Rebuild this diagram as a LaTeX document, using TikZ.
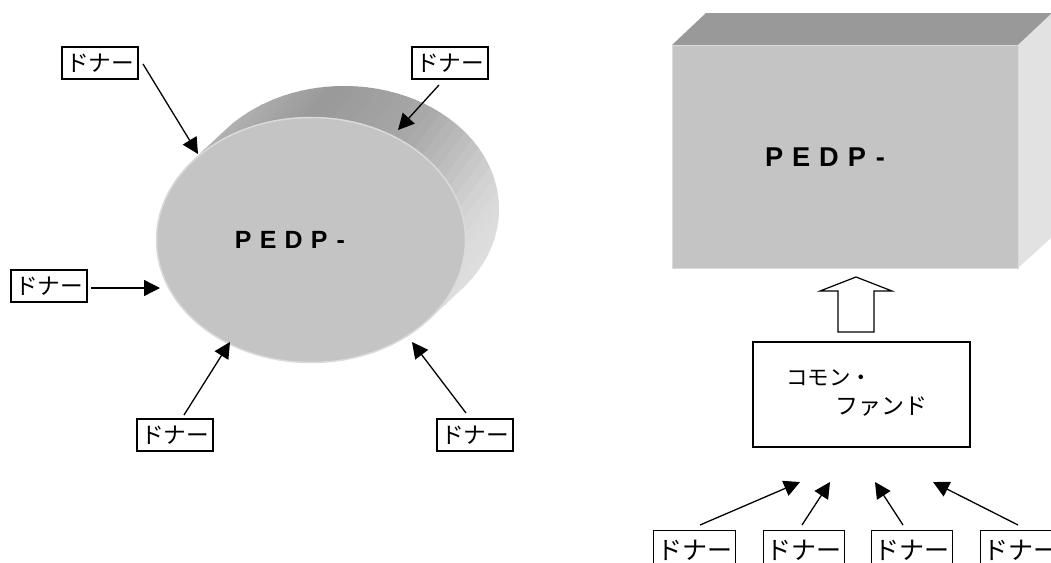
\documentclass[tikz,border=0pt]{standalone}
\usepackage{graphicx}
\usepackage{fontspec}
\setmainfont{Liberation Sans}
\newfontfamily\jp{Noto Sans CJK JP}
\usetikzlibrary{arrows.meta,shapes.geometric}
\definecolor{faceC}{HTML}{C4C4C4}
\definecolor{topC}{HTML}{999999}
\definecolor{sideC}{HTML}{E2E2E2}
\definecolor{rimC}{HTML}{DADADA}
\newcommand{\donortext}[1]{\resizebox{#1}{!}{\jp ドナー}}
\newcommand{\pedptext}[1]{\resizebox{#1}{!}{\bfseries P\hspace{0.33em}E\hspace{0.33em}D\hspace{0.33em}P\hspace{0.37em}-}}
\tikzset{
  donor/.style={draw=black, line width=1.3pt, inner sep=0pt, minimum height=32pt},
  feed/.style={line width=1.3pt, -{Triangle[length=16pt,width=16pt]}},
  cfund/.style={anchor=west, inner sep=0pt},
}
\begin{document}
\begin{tikzpicture}[x=1pt,y=-1pt]
\useasboundingbox (0,0) rectangle (1051,562);
\clip (0,0) rectangle (1051,562);
\fill[white] (0,0) rectangle (1051,562);
% ---------- cylinder side ----------
\begin{scope}
  \clip (344,209) ellipse [x radius=155pt, y radius=123pt]
        (192.6,160.6) -- (429.4,319.4) -- (462.4,288.4) -- (225.6,129.6) -- cycle;
  \foreach \ua/\ub/\ca/\cb in {-210/-135/22/31, -135/-77/31/40, -77/15/40/34, 15/117/34/15, 117/161/15/12, 161/210/12/10}{
    \foreach \k in {0,...,9}{
      \pgfmathsetmacro\uu{\ua+(\ub-\ua)*\k/10}
      \pgfmathsetmacro\uv{\ua+(\ub-\ua)*(\k+1)/10+0.8}
      \pgfmathsetmacro\cc{\ca+(\cb-\ca)*(\k+0.5)/10}
      \fill[black!\cc]
        ({344+0.8*(\uu)-180},{200+0.6*(\uu)+240}) --
        ({344+0.8*(\uu)+180},{200+0.6*(\uu)-240}) --
        ({344+0.8*(\uv)+180},{200+0.6*(\uv)-240}) --
        ({344+0.8*(\uv)-180},{200+0.6*(\uv)+240}) -- cycle;
    }
  }
\end{scope}
\node[draw=rimC, line width=1.5pt, fill=faceC, ellipse, minimum width=309pt, minimum height=245pt, inner sep=0pt] (cyl) at (311,240) {};
\node[inner sep=0pt] (pedpL) at (290,240) {\pedptext{110pt}};
% ---------- left donors ----------
\node[donor, minimum width=76pt] (d1) at (100,63) {\donortext{68pt}};
\node[donor, minimum width=76pt] (d2) at (450,63) {\donortext{68pt}};
\node[donor, minimum width=76pt] (d3) at (49,286) {\donortext{68pt}};
\node[donor, minimum width=76pt] (d4) at (175,435) {\donortext{68pt}};
\node[donor, minimum width=76pt] (d5) at (475,435) {\donortext{68pt}};
\coordinate (t1) at (198,154);
\coordinate (t2) at (398,130);
\coordinate (t3) at (160,288);
\coordinate (t4) at (230,342);
\coordinate (t5) at (412,342);
\coordinate (s1) at (143,64);
\coordinate (s2) at (439,85);
\coordinate (s3) at (91,288);
\coordinate (s4) at (184,415);
\coordinate (s5) at (466,413);
\draw[feed] (s1) -- (t1);
\draw[feed] (s2) -- (t2);
\draw[feed] (s3) -- (t3);
\draw[feed] (s4) -- (t4);
\draw[feed] (s5) -- (t5);
% ---------- box ----------
\fill[topC] (672,45) -- (706,13) -- (1060,13) -- (1018,45) -- cycle;
\fill[sideC] (1018,45) -- (1052,13) -- (1052,237) -- (1018,268) -- cycle;
\node[fill=faceC, draw=rimC, line width=1pt, minimum width=346pt, minimum height=223pt, inner sep=0pt] (box) at (845,156.5) {};
\node[inner sep=0pt] (pedpR) at (825,157) {\pedptext{120pt}};
% ---------- hollow arrow ----------
\draw[line width=1.2pt, fill=white] (838,332) -- (838,291) -- (820,291) -- (856,277) -- (892,291) -- (874,291) -- (874,332) -- cycle;
% ---------- common fund ----------
\node[draw=black, line width=1.2pt, minimum width=217pt, minimum height=105pt, inner sep=0pt] (cf) at (861.5,394.5) {};
\node[cfund] (cf1) at (786,378) {\resizebox{86pt}{!}{\jp コモン・}};
\node[cfund] (cf2) at (835,407) {\resizebox{92pt}{!}{\jp ファンド}};
% ---------- bottom donors ----------
\node[donor, minimum width=82pt, minimum height=46pt, anchor=north west] (b1) at (653,530) {};
\node[donor, minimum width=81pt, minimum height=46pt, anchor=north west] (b2) at (763,530) {};
\node[donor, minimum width=81pt, minimum height=46pt, anchor=north west] (b3) at (871,530) {};
\node[donor, minimum width=82pt, minimum height=46pt, anchor=north west] (b4) at (980,530) {};
\node[anchor=west, inner sep=0pt] (bt1) at (657,550) {\donortext{75pt}};
\node[anchor=west, inner sep=0pt] (bt2) at (766,550) {\donortext{75pt}};
\node[anchor=west, inner sep=0pt] (bt3) at (874,550) {\donortext{75pt}};
\node[anchor=west, inner sep=0pt] (bt4) at (983,550) {\donortext{75pt}};
\coordinate (u1) at (700,525);
\coordinate (u2) at (802,525);
\coordinate (u3) at (903,525);
\coordinate (u4) at (1018,525);
\coordinate (v1) at (800,482);
\coordinate (v2) at (830,482);
\coordinate (v3) at (875,482);
\coordinate (v4) at (933,482);
\draw[feed] (u1) -- (v1);
\draw[feed] (u2) -- (v2);
\draw[feed] (u3) -- (v3);
\draw[feed] (u4) -- (v4);
\end{tikzpicture}
\end{document}
